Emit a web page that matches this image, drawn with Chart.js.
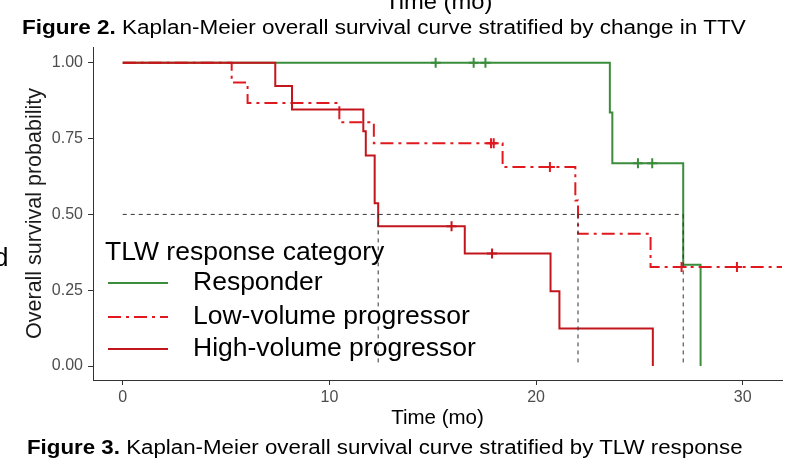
<!DOCTYPE html>
<html>
<head>
<meta charset="utf-8">
<script src="https://cdn.jsdelivr.net/npm/chart.js@4.4.1/dist/chart.umd.min.js"></script>
<style>
  html, body { margin: 0; padding: 0; background: #fff; }
  body { width: 789px; height: 467px; position: relative; overflow: hidden; font-family: "Liberation Sans", Arial, sans-serif; }
  #wrap { position: absolute; left: 0; top: 0; width: 789px; height: 467px; }
  .txt { position: absolute; white-space: nowrap; color: #000; line-height: 1; transform-origin: 0 0; }
</style>
</head>
<body>
<div id="wrap"><canvas id="kmchart" width="789" height="467"></canvas></div>
<div class="txt" style="left:385px; top:-9px; font-size:22px; transform:scaleX(1.08);">Time (mo)</div>
<div class="txt" style="left:22px; top:17px; font-size:20px; transform:scaleX(1.125);"><b>Figure 2.</b> Kaplan-Meier overall survival curve stratified by change in TTV</div>
<div class="txt" style="left:-6px; top:244px; font-size:26px;">d</div>
<div class="txt" style="left:27px; top:437px; font-size:20px; transform:scaleX(1.115);"><b>Figure 3.</b> Kaplan-Meier overall survival curve stratified by TLW response</div>
<script>
// KM step curves (time in months, survival prob)
const seriesNames = ["Responder", "Low-volume progressor", "High-volume progressor"];
const legendTitle = "TLW response category";

const respTimes = [0, 23.57, 23.69, 27.12, 27.96];
const respSurv  = [1, 0.836, 0.669, 0.334, 0];
const lowTimes  = [0, 5.27, 6.04, 10.48, 12.15, 18.38, 21.9, 22.03, 25.54, 32];
const lowSurv   = [1, 0.935, 0.867, 0.804, 0.735, 0.656, 0.546, 0.436, 0.327, 0.327];
const highTimes = [0, 7.38, 8.19, 11.64, 11.76, 12.19, 12.36, 16.55, 20.7, 21.13, 25.65];
const highSurv  = [1, 0.923, 0.846, 0.774, 0.694, 0.537, 0.461, 0.371, 0.247, 0.124, 0];

// censoring marks (+)
const respCensT = [15.14, 16.98, 17.55, 24.93, 25.62];
const respCensS = [1, 1, 1, 0.669, 0.669];
const lowCensT  = [17.82, 17.95, 20.67, 27.04, 29.72];
const lowCensS  = [0.735, 0.735, 0.656, 0.327, 0.327];
const highCensT = [15.91, 17.87];
const highCensS = [0.461, 0.371];

// median survival times (dashed guides at 0.5)
const medianTimes = [12.36, 22.03, 27.12];
const medianLevel = 0.5;

const xTickVals = [0, 10, 20, 30];
const yTickVals = [0, 0.25, 0.5, 0.75, 1];

const colors = ["#3b8c3b", "#e0191f", "#c3161c"];
const dashes = [[], [13, 5, 3, 5], []];

function pts(t, s) { return t.map((v, i) => ({ x: v, y: s[i] })); }

const curves = [pts(respTimes, respSurv), pts(lowTimes, lowSurv), pts(highTimes, highSurv)];
const cens = [pts(respCensT, respCensS), pts(lowCensT, lowCensS), pts(highCensT, highCensS)];

const datasets = [];
// order: lower number drawn on top
curves.forEach((d, i) => {
  datasets.push({
    label: seriesNames[i], data: d, stepped: "before",
    borderColor: colors[i], borderWidth: 2, borderDash: dashes[i],
    pointRadius: 0, fill: false, order: 3 - i + 1
  });
  datasets.push({
    label: seriesNames[i] + " censored", data: cens[i], showLine: false,
    pointStyle: "cross", pointRadius: 5, pointBorderWidth: 2,
    borderColor: colors[i], backgroundColor: colors[i], order: 3 - i
  });
});
// dashed median guides
const maxMed = Math.max(...medianTimes);
datasets.push({
  label: "median", data: [{ x: 0, y: medianLevel }, { x: maxMed, y: medianLevel }],
  borderColor: "#333", borderWidth: 1, borderDash: [4, 4], pointRadius: 0, order: 0
});
medianTimes.forEach(m => {
  datasets.push({
    label: "median", data: [{ x: m, y: medianLevel }, { x: m, y: 0 }],
    borderColor: "#333", borderWidth: 1, borderDash: [4, 4], pointRadius: 0, order: 0
  });
});

// legend drawn inside the panel like ggplot's
const insideLegend = {
  id: "insideLegend",
  afterDatasetsDraw(chart) {
    const ctx = chart.ctx;
    ctx.save();
    ctx.font = "26.5px 'Liberation Sans', Arial, sans-serif";
    ctx.fillStyle = "#000";
    ctx.textBaseline = "middle";
    ctx.fillText(legendTitle, 105, 253);
    const ys = [283, 317, 349];
    seriesNames.forEach((name, i) => {
      ctx.strokeStyle = colors[i];
      ctx.lineWidth = 2;
      ctx.setLineDash(dashes[i]);
      ctx.beginPath();
      ctx.moveTo(108, ys[i]);
      ctx.lineTo(168, ys[i]);
      ctx.stroke();
      ctx.setLineDash([]);
      ctx.fillText(name, 193, ys[i]);
    });
    ctx.restore();
  }
};

Chart.defaults.font.family = "'Liberation Sans', Arial, sans-serif";
Chart.defaults.color = "#4d4d4d";

new Chart(document.getElementById("kmchart"), {
  type: "line",
  data: { datasets: datasets },
  options: {
    responsive: false,
    animation: false,
    layout: { padding: { top: 47, left: 0, right: 0, bottom: 0 } },
    plugins: { legend: { display: false }, tooltip: { enabled: false } },
    scales: {
      x: {
        type: "linear", min: -1.44, max: 31.9,
        afterBuildTicks: s => { s.ticks = xTickVals.map(v => ({ value: v })); },
        afterFit: s => { s.height = 87; },
        ticks: { font: { size: 16 }, color: "#4d4d4d", padding: 3, maxRotation: 0 },
        grid: { drawOnChartArea: false, drawTicks: true, tickLength: 5, color: "#333" },
        border: { color: "#333", width: 1 },
        title: { display: true, text: "Time (mo)", color: "#000", font: { size: 20.5 }, padding: { top: 0, bottom: 36 } }
      },
      y: {
        type: "linear", min: -0.046, max: 1.052,
        afterBuildTicks: s => { s.ticks = yTickVals.map(v => ({ value: v })); },
        afterFit: s => { s.width = 93; },
        ticks: { font: { size: 16 }, color: "#4d4d4d", padding: 5, callback: v => v.toFixed(2) },
        grid: { drawOnChartArea: false, drawTicks: true, tickLength: 5, color: "#333" },
        border: { color: "#333", width: 1 },
        title: { display: true, text: "Overall survival probability", color: "#1a1a1a", font: { size: 21.5 }, padding: { top: 22, bottom: 0 } }
      }
    }
  },
  plugins: [insideLegend]
});
</script>
</body>
</html>
